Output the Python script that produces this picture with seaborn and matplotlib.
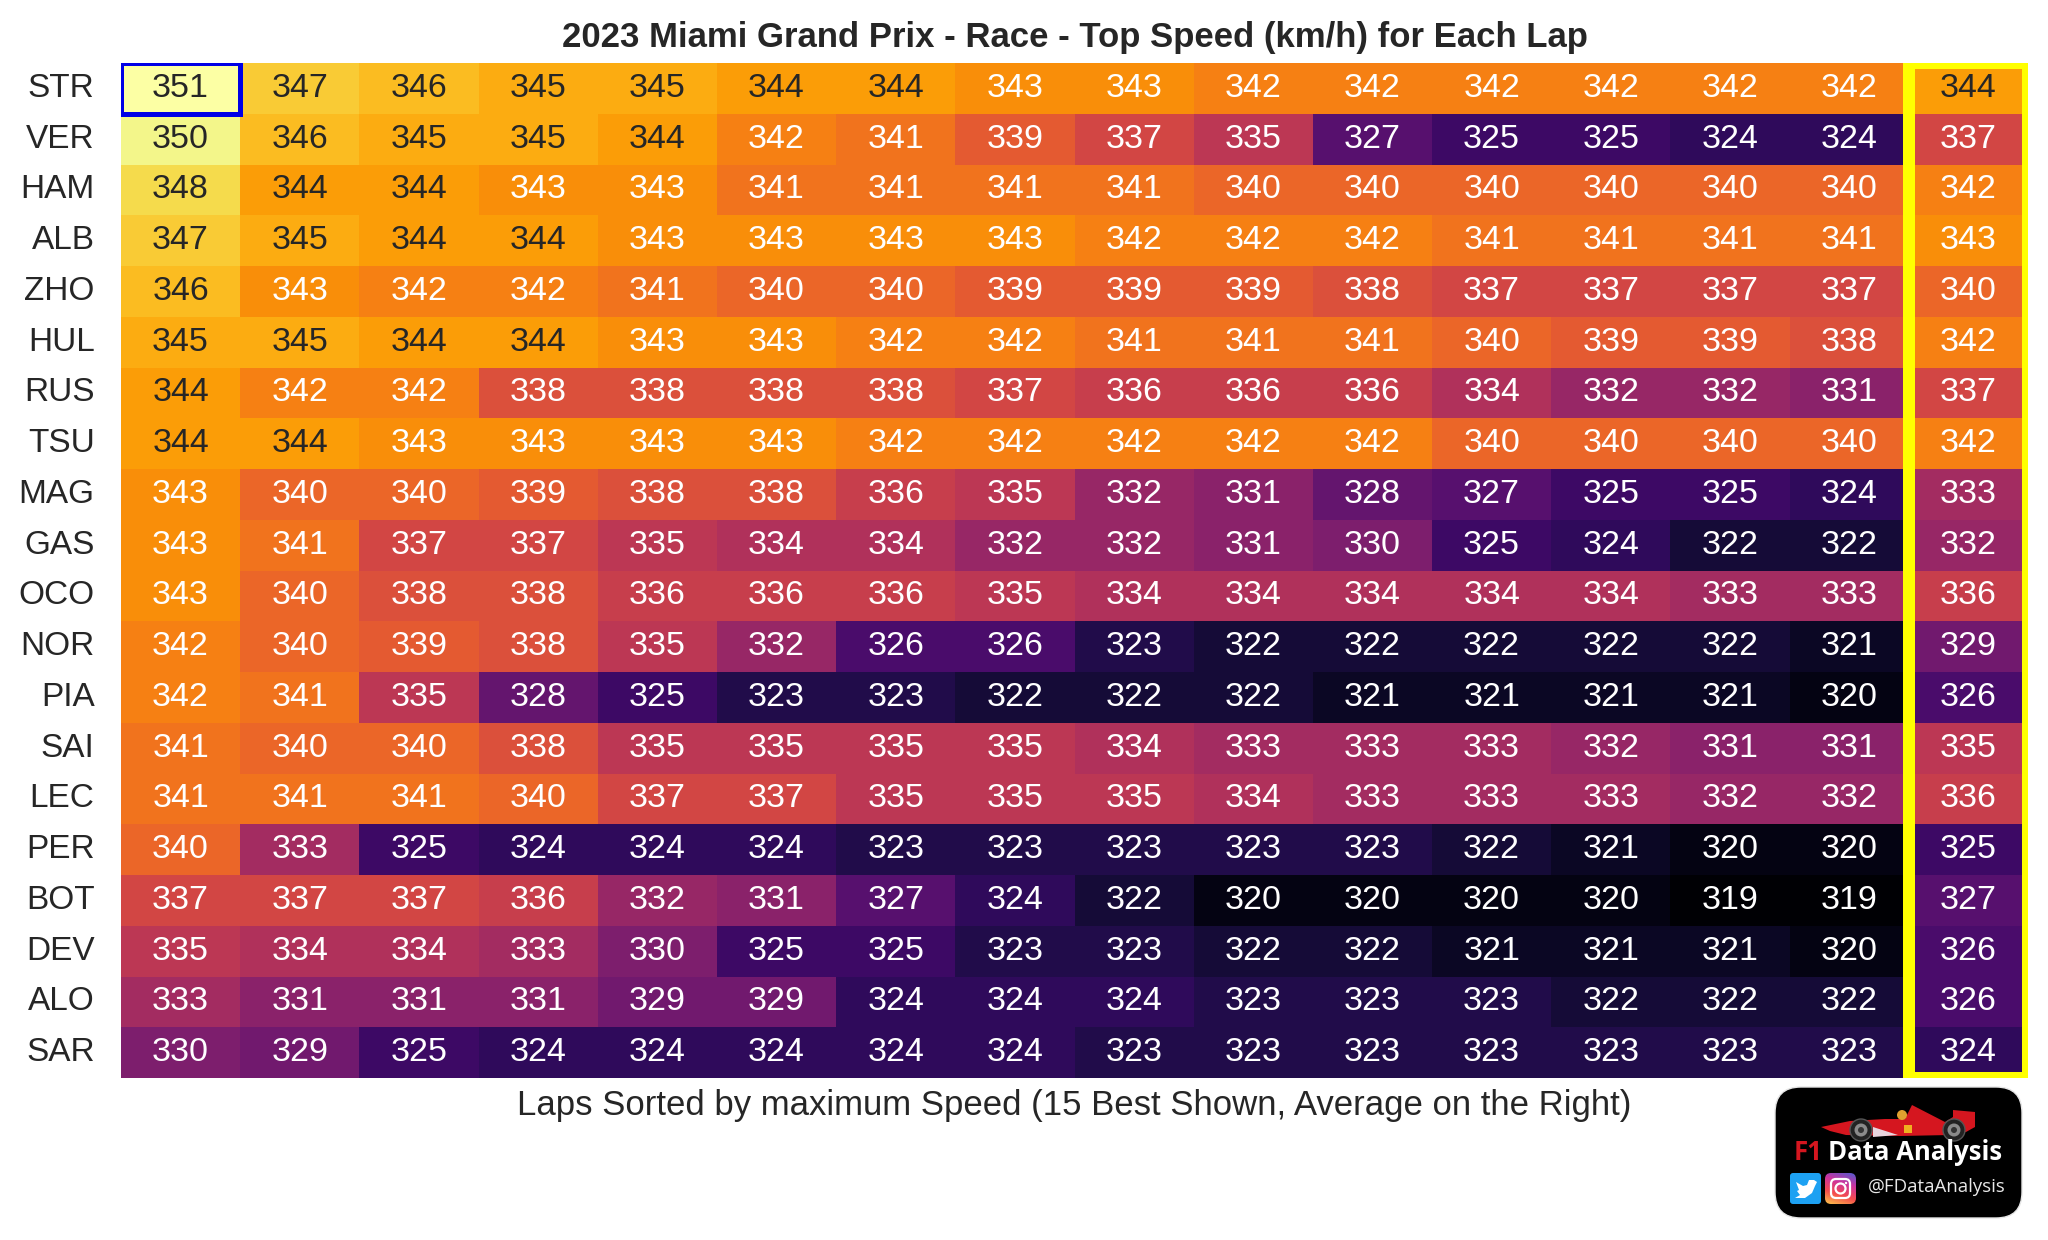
import numpy as np
import pandas as pd
import matplotlib
matplotlib.use("Agg")
import matplotlib.pyplot as plt
from matplotlib.patches import Rectangle, FancyBboxPatch, Polygon, Circle
import seaborn as sns

drivers = ["STR","VER","HAM","ALB","ZHO","HUL","RUS","TSU","MAG","GAS",
           "OCO","NOR","PIA","SAI","LEC","PER","BOT","DEV","ALO","SAR"]
col_labels = [f"L{i}" for i in range(1, 16)] + ["Avg"]
STR = [351,347,346,345,345,344,344,343,343,342,342,342,342,342,342,344]
VER = [350,346,345,345,344,342,341,339,337,335,327,325,325,324,324,337]
HAM = [348,344,344,343,343,341,341,341,341,340,340,340,340,340,340,342]
ALB = [347,345,344,344,343,343,343,343,342,342,342,341,341,341,341,343]
ZHO = [346,343,342,342,341,340,340,339,339,339,338,337,337,337,337,340]
HUL = [345,345,344,344,343,343,342,342,341,341,341,340,339,339,338,342]
RUS = [344,342,342,338,338,338,338,337,336,336,336,334,332,332,331,337]
TSU = [344,344,343,343,343,343,342,342,342,342,342,340,340,340,340,342]
MAG = [343,340,340,339,338,338,336,335,332,331,328,327,325,325,324,333]
GAS = [343,341,337,337,335,334,334,332,332,331,330,325,324,322,322,332]
OCO = [343,340,338,338,336,336,336,335,334,334,334,334,334,333,333,336]
NOR = [342,340,339,338,335,332,326,326,323,322,322,322,322,322,321,329]
PIA = [342,341,335,328,325,323,323,322,322,322,321,321,321,321,320,326]
SAI = [341,340,340,338,335,335,335,335,334,333,333,333,332,331,331,335]
LEC = [341,341,341,340,337,337,335,335,335,334,333,333,333,332,332,336]
PER = [340,333,325,324,324,324,323,323,323,323,323,322,321,320,320,325]
BOT = [337,337,337,336,332,331,327,324,322,320,320,320,320,319,319,327]
DEV = [335,334,334,333,330,325,325,323,323,322,322,321,321,321,320,326]
ALO = [333,331,331,331,329,329,324,324,324,323,323,323,322,322,322,326]
SAR = [330,329,325,324,324,324,324,324,323,323,323,323,323,323,323,324]
rows = [STR,VER,HAM,ALB,ZHO,HUL,RUS,TSU,MAG,GAS,OCO,NOR,PIA,SAI,LEC,PER,BOT,DEV,ALO,SAR]
df = pd.DataFrame(rows, index=drivers, columns=col_labels)

title = "2023 Miami Grand Prix - Race - Top Speed (km/h) for Each Lap"
xlabel = "Laps Sorted by maximum Speed (15 Best Shown, Average on the Right)"

sns.set_theme(style="white")
plt.rcParams["font.family"] = ["Liberation Sans", "DejaVu Sans"]

W, H = 2048, 1240
fig = plt.figure(figsize=(W/100, H/100), dpi=100, facecolor="white")
L, R, T, B = 121, 2028, 63, 1078
ax = fig.add_axes([L/W, 1-B/H, (R-L)/W, (B-T)/H])
sns.heatmap(df, cmap="inferno", annot=True, fmt="d", cbar=False, ax=ax,
            annot_kws={"fontsize": 24.5})
ax.set_xticks([])
ax.set_ylabel("")
ax.set_xlabel("")
ax.tick_params(axis="y", length=0, pad=19, labelsize=24, labelcolor=".15", rotation=0)
for lab in ax.get_yticklabels():
    lab.set_rotation(0)

px = 72/100
ax.add_patch(Rectangle((15, 0), 1, 20, fill=False, ec="#ffff00", lw=12*px, clip_on=True))
ax.add_patch(Rectangle((0, 0), 1, 1, fill=False, ec="#0000e6", lw=5*px, clip_on=True))

fig.text(1075/W, 1-37/H, title, ha="center", va="center", fontsize=25,
         fontweight="bold", color=".15")
fig.text(1074/W, 1-1106/H, xlabel, ha="center", va="center", fontsize=25, color=".15")

# logo overlay, in pixel units
lg = fig.add_axes([0, 0, 1, 1], zorder=5)
lg.set_xlim(0, W); lg.set_ylim(H, 0); lg.axis("off"); lg.patch.set_alpha(0)
lg.add_patch(FancyBboxPatch((1775, 1087), 247, 131, boxstyle="round,pad=0,rounding_size=26",
                            fc="black", ec="#e6e6e6", lw=1))
# car
red = "#d5161f"
lg.add_patch(Polygon([(1821,1127),(1850,1121),(1885,1119),(1905,1119),(1912,1105),(1945,1122),
                      (1953,1117),(1953,1110),(1975,1112),(1975,1127),(1966,1132),(1950,1135),
                      (1900,1136),(1846,1135),(1830,1131)], closed=True, fc=red, ec="none"))
lg.add_patch(Polygon([(1873,1127),(1898,1135),(1873,1137)], closed=True, fc="#e8d5de", ec="none"))
lg.add_patch(Circle((1902, 1115), 5, fc="#e0a030", ec="none"))
lg.add_patch(Rectangle((1904, 1125), 8, 8, fc="#f0b020", ec="none"))
for cx in (1861, 1954):
    lg.add_patch(Circle((cx, 1130), 11, fc="#222222", ec="#555555", lw=1))
    lg.add_patch(Circle((cx, 1130), 6.5, fc="#8a8a8a", ec="none"))
    lg.add_patch(Circle((cx, 1130), 3, fc="#333333", ec="none"))
# logo text
lg.text(1794, 1153, "F1", color="#d5161f", fontsize=18.5, fontweight="bold",
        family="Open Sans", ha="left", va="center")
lg.text(1828, 1153, "Data Analysis", color="white", fontsize=18.5, fontweight="bold",
        family="Open Sans", ha="left", va="center")
lg.text(1868, 1187, "@FDataAnalysis", color="#e8e8e8", fontsize=13.4,
        family="Open Sans", ha="left", va="center")
# twitter tile
lg.add_patch(FancyBboxPatch((1790, 1173), 31, 31, boxstyle="round,pad=0,rounding_size=3",
                            fc="#1da1f2", ec="none"))
lg.add_patch(Polygon([(1796,1182),(1803,1186),(1807,1185),(1809,1180),(1814,1180),(1817,1182),
                      (1815,1186),(1812,1193),(1805,1198),(1795,1198),(1800,1195),(1797,1191),
                      (1799,1190)], closed=True, fc="white", ec="none"))
# instagram tile
grad_y, grad_x = np.mgrid[0:1:64j, 0:1:64j]
stops = np.array([[0.32,0.36,0.82],[0.80,0.20,0.62],[0.96,0.30,0.30],[0.99,0.78,0.30]])
g = (grad_y*0.75 + (1-grad_x)*0.25)*3
i0 = np.clip(g.astype(int), 0, 2)
f = (g-i0)[..., None]
img = stops[i0]*(1-f) + stops[i0+1]*f
im = lg.imshow(img, extent=(1825, 1856, 1204, 1173), zorder=2, aspect="auto")
clip = FancyBboxPatch((1825, 1173), 31, 31, boxstyle="round,pad=0,rounding_size=6",
                      fc="none", ec="none", transform=lg.transData)
lg.add_patch(clip)
im.set_clip_path(clip)
lg.set_xlim(0, W); lg.set_ylim(H, 0)
lg.add_patch(FancyBboxPatch((1831, 1179), 19, 19, boxstyle="round,pad=0,rounding_size=5",
                            fc="none", ec="white", lw=1.6, zorder=3))
lg.add_patch(Circle((1840.5, 1188.5), 5, fc="none", ec="white", lw=1.6, zorder=3))
lg.add_patch(Circle((1846, 1183), 1.2, fc="white", ec="none", zorder=3))

fig.savefig("out.png", dpi=100, facecolor="white")
